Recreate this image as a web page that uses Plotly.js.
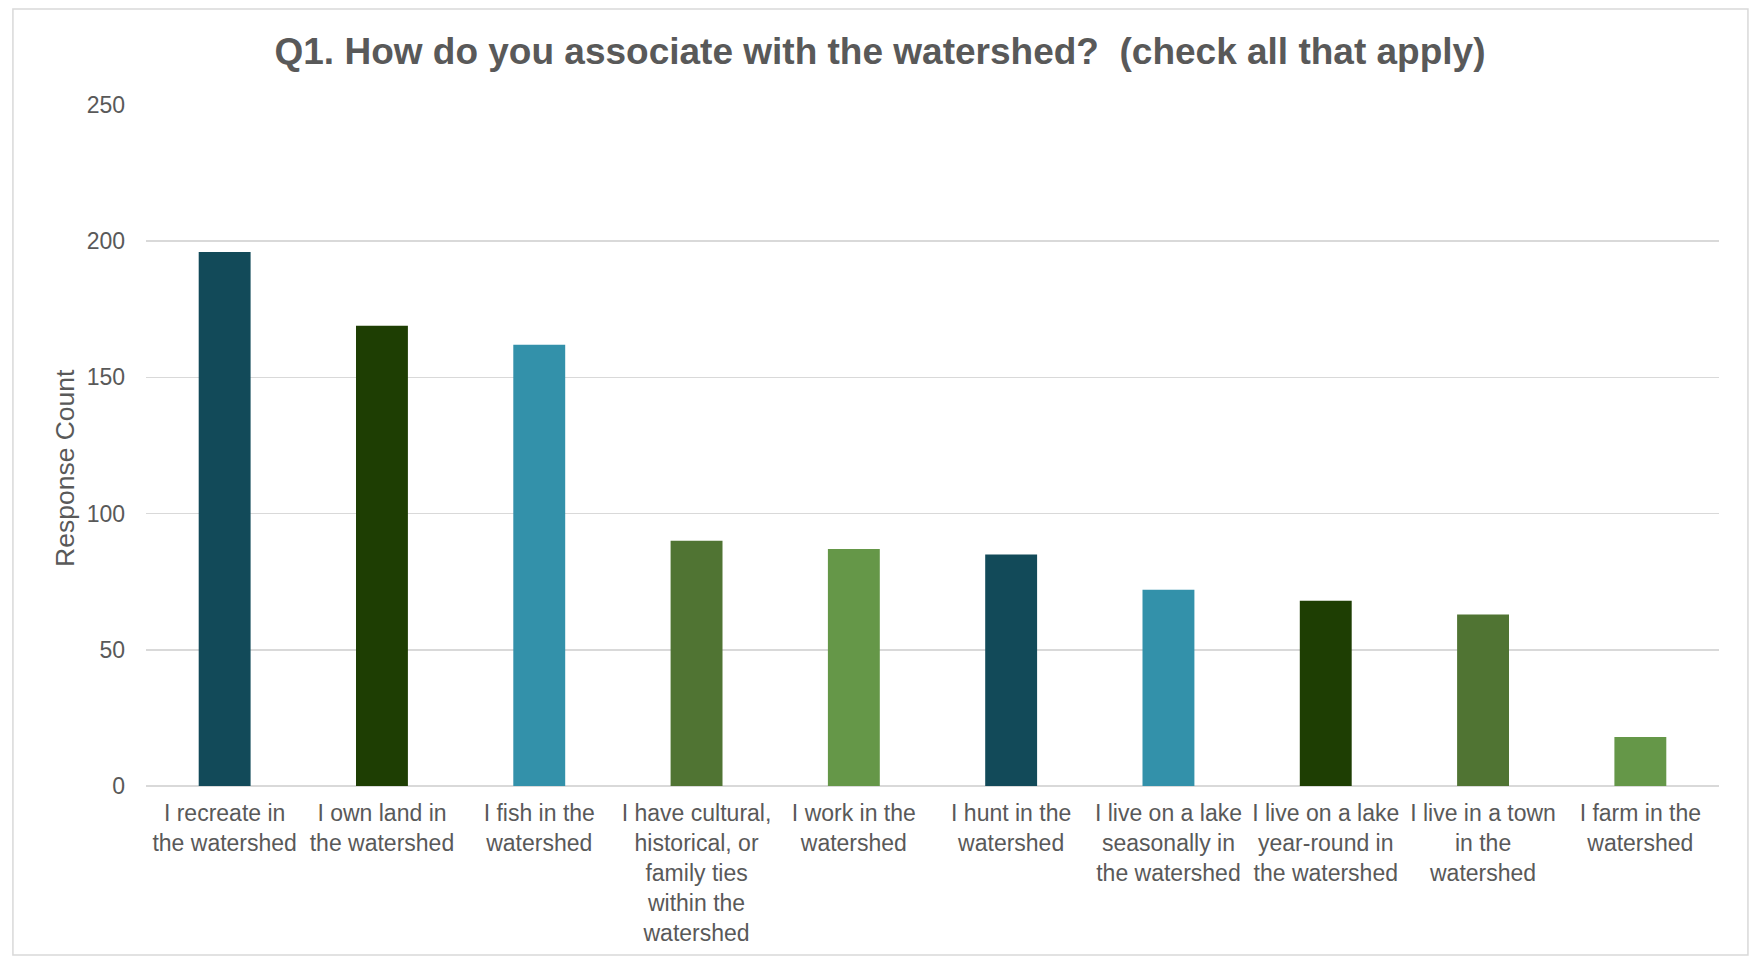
<!DOCTYPE html>
<html>
<head>
<meta charset="utf-8">
<script src="https://cdn.plot.ly/plotly-3.0.1.min.js"></script>
<style>
  html, body { margin: 0; padding: 0; background: #ffffff; }
  #chart { width: 1753px; height: 956px; }
</style>
</head>
<body>
<div id="chart"></div>
<script>
// ---- Data ----
const categories = [
  "I recreate in<br>the watershed",
  "I own land in<br>the watershed",
  "I fish in the<br>watershed",
  "I have cultural,<br>historical, or<br>family ties<br>within the<br>watershed",
  "I work in the<br>watershed",
  "I hunt in the<br>watershed",
  "I live on a lake<br>seasonally in<br>the watershed",
  "I live on a lake<br>year-round in<br>the watershed",
  "I live in a town<br>in the<br>watershed",
  "I farm in the<br>watershed"
];
const responseCounts = [196, 169, 162, 90, 87, 85, 72, 68, 63, 18];
const barColors = ["#124A59", "#1E3E03", "#3391AA", "#507433", "#659748",
                   "#124A59", "#3391AA", "#1E3E03", "#507433", "#659748"];
const yTickValues = [0, 50, 100, 150, 200, 250];

const chartTitle = "Q1. How do you associate with the watershed?&nbsp; (check all that apply)";
const yAxisTitle = "Response Count";

// ---- Chart ----
const textColor = "#595959";
const fontFamily = "'Liberation Sans', Arial, sans-serif";

const trace = {
  type: "bar",
  x: categories,
  y: responseCounts,
  marker: { color: barColors, line: { width: 0 } },
  hoverinfo: "x+y"
};

const layout = {
  width: 1753,
  height: 956,
  paper_bgcolor: "#ffffff",
  plot_bgcolor: "#ffffff",
  margin: { l: 146, r: 34, t: 105, b: 170, pad: 0 },
  showlegend: false,
  bargap: 0.67,
  font: { family: fontFamily, color: textColor },
  title: {
    text: chartTitle,
    font: { family: fontFamily, size: 37, color: textColor, weight: "bold" },
    xref: "container", x: 0.502, xanchor: "center",
    yref: "container", y: 0.9466, yanchor: "middle"
  },
  xaxis: {
    type: "category",
    tickfont: { family: fontFamily, size: 23, color: textColor },
    tickangle: 0,
    showgrid: false,
    showline: false,
    zeroline: false,
    ticks: "",
    ticklabelstandoff: 11,
    automargin: false,
    fixedrange: true
  },
  yaxis: {
    range: [0, 250],
    tickvals: yTickValues,
    ticktext: yTickValues.map(String),
    tickfont: { family: fontFamily, size: 23, color: textColor },
    showgrid: true,
    gridcolor: "#d9d9d9",
    gridwidth: 1.5,
    zeroline: true,
    zerolinecolor: "#d9d9d9",
    zerolinewidth: 2,
    showline: false,
    ticks: "",
    ticklabelstandoff: 20,
    automargin: false,
    fixedrange: true
  },
  annotations: [{
    text: yAxisTitle,
    xref: "paper", yref: "paper",
    x: -0.0515, y: 0.467,
    xanchor: "center", yanchor: "middle",
    textangle: -90,
    showarrow: false,
    font: { family: fontFamily, size: 26.5, color: textColor }
  }],
  shapes: [{
    type: "rect",
    xref: "paper", yref: "paper",
    x0: -0.0846, x1: 1.0184, y0: -0.248, y1: 1.141,
    line: { color: "#d9d9d9", width: 1.5 },
    fillcolor: "rgba(0,0,0,0)",
    layer: "below"
  }]
};

Plotly.newPlot("chart", [trace], layout, { displayModeBar: false, staticPlot: true });
</script>
</body>
</html>
